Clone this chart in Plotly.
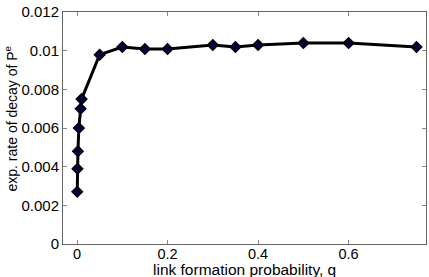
import plotly.graph_objects as go

q = [0.0005, 0.001, 0.002, 0.004, 0.008, 0.01, 0.05, 0.1, 0.15, 0.2, 0.3, 0.35, 0.4, 0.5, 0.6, 0.75]
rate = [0.0027, 0.0039, 0.0048, 0.0060, 0.0070, 0.0075, 0.0098, 0.0102, 0.0101, 0.0101,
        0.0103, 0.0102, 0.0103, 0.0104, 0.0104, 0.0102]
x_ticks = [0, 0.2, 0.4, 0.6]
x_labels = ["0", "0.2", "0.4", "0.6"]
y_ticks = [0, 0.002, 0.004, 0.006, 0.008, 0.01, 0.012]
y_labels = ["0", "0.002", "0.004", "0.006", "0.008", "0.01", "0.012"]
x_title = "link formation probability, q"
y_title = "exp. rate of decay of P<sup>e</sup>"

fig = go.Figure(go.Scatter(
    x=q, y=rate, mode="lines+markers",
    line=dict(color="black", width=3),
    marker=dict(symbol="diamond", size=8, color="#000040", line=dict(color="black", width=1.5)),
    cliponaxis=False,
))

family = "Liberation Sans, Arial, sans-serif"
font = dict(family=family, size=15, color="black")
fig.update_layout(
    width=429, height=277,
    margin=dict(l=63, r=3, t=12, b=33),
    paper_bgcolor="white", plot_bgcolor="white",
    showlegend=False,
    font=font,
    annotations=[
        dict(text=x_title, xref="paper", yref="paper", x=0.5, y=0, xanchor="center",
             yanchor="middle", yshift=-25, showarrow=False,
             font=dict(family=family, size=15.5, color="black")),
        dict(text=y_title, xref="paper", yref="paper", x=0, y=0.541, xanchor="center",
             yanchor="middle", xshift=-51, textangle=-90, showarrow=False,
             font=dict(family=family, size=14, color="black")),
    ],
)
fig.update_xaxes(
    range=[-0.031, 0.771], tickvals=x_ticks, ticktext=x_labels,
    tickfont=dict(family=family, size=14.5, color="black"),
    ticks="inside", ticklen=4, tickcolor="#888", showline=True, linecolor="#666", linewidth=1,
    mirror="ticks", showgrid=False, zeroline=False, ticklabelstandoff=-3,
)
fig.update_yaxes(
    range=[0, 0.01201], tickvals=y_ticks, ticktext=y_labels,
    ticks="inside", ticklen=4, tickcolor="#888", showline=True, linecolor="#666", linewidth=1,
    mirror="ticks", showgrid=False, zeroline=False, ticklabelstandoff=0,
)
fig.write_html("out.html", config={"displayModeBar": False},
               post_script="document.body.style.margin='0';")
